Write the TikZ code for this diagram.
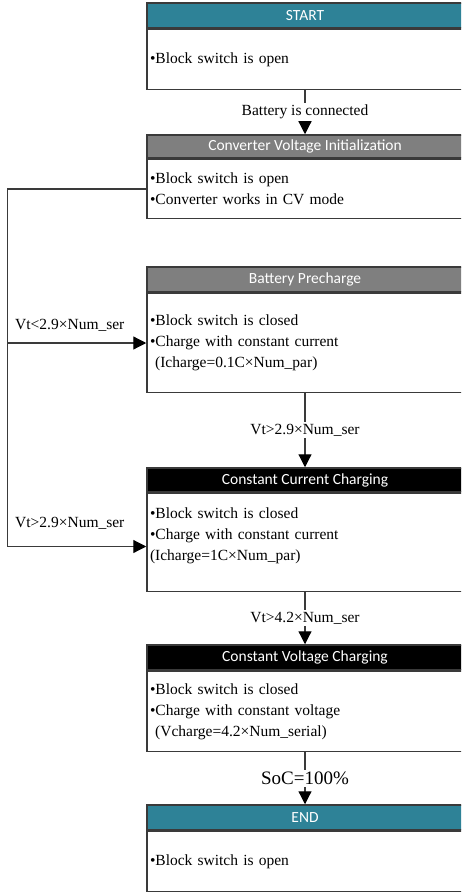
\documentclass[tikz,border=0pt]{standalone}
\usepackage{fontspec}
\setmainfont{Liberation Serif}
\newfontfamily\headfont{Carlito}
\usetikzlibrary{arrows.meta}
\usetikzlibrary{positioning}

\definecolor{stateteal}{HTML}{2E8297}
\definecolor{stategray}{HTML}{7F7F7F}
\definecolor{framegray}{HTML}{3A3A3A}

\tikzset{
  head/.style={draw=framegray, line width=1.5pt, minimum width=316pt,
    minimum height=25pt, inner sep=0pt, text=white,
    font=\headfont\fontsize{15.5}{17}\selectfont},
  body/.style={draw=framegray, line width=1.5pt, minimum width=316pt,
    text width=310pt, inner xsep=3pt, inner ysep=0pt, align=left,
    anchor=north, font=\fontsize{15.5}{21}\selectfont},
  lbl/.style={fill=white, inner sep=2pt, font=\fontsize{15.5}{18}\selectfont},
  arr/.style={draw=framegray, line width=1.2pt,
    -{Triangle[width=13pt,length=13pt,color=black]}},
}

\begin{document}
\begin{tikzpicture}[x=1pt,y=-1pt]
\useasboundingbox (0,0) rectangle (461,893);
\clip (0,0) rectangle (461,893);
\def\c{305}
\node[head, fill=stateteal] (hStart) at (\c, 15.5) {START};
\node[body, minimum height=60pt] (bStart) at (hStart.south) {•Block switch is open};

\node[head, fill=stategray, minimum height=23pt] (hInit) at (\c, 146.5) {Converter Voltage Initialization};
\node[body, minimum height=59pt] (bInit) at (hInit.south) {•Block switch is open\\•Converter works in CV mode};

\node[head, fill=stategray] (hPre) at (\c, 279.5) {Battery Precharge};
\node[body, minimum height=99pt] (bPre) at (hPre.south) {•Block switch is closed\\•Charge with constant current\\\ (Icharge=0.1C×Num\_par)};

\node[head, fill=black, minimum height=24pt] (hCC) at (\c, 480) {Constant Current Charging};
\node[body, minimum height=98pt] (bCC) at (hCC.south) {•Block switch is closed\\•Charge with constant current\\(Icharge=1C×Num\_par)\\[-5pt]\mbox{}};

\node[head, fill=black] (hCV) at (\c, 657.5) {Constant Voltage Charging};
\node[body, minimum height=80pt] (bCV) at (hCV.south) {•Block switch is closed\\•Charge with constant voltage\\\ (Vcharge=4.2×Num\_serial)};

\node[head, fill=stateteal] (hEnd) at (\c, 817.5) {END};
\node[body, minimum height=60pt] (bEnd) at (hEnd.south) {•Block switch is open};

% main flow
\draw[arr] (bStart) -- node[lbl] {Battery is connected} (hInit);
\draw[arr] (bPre) -- node[lbl] {Vt>2.9×Num\_ser} (hPre |- hCC.north);
\draw[arr] (bCC) -- node[lbl] {Vt>4.2×Num\_ser} (hCV);
\draw[arr] (bCV) -- node[lbl, font=\fontsize{19}{22}\selectfont] {SoC=100\%} (hEnd);

% loop on the left
\path (bInit.west) ++(-139,0) coordinate (loop);
\draw[draw=framegray, line width=1.2pt] (bInit.west) -- (loop);
\draw[arr] (loop) |- (bPre.west);
\draw[arr] (loop) |- ([yshift=-4pt]bCC.west);
\node[lbl, fill=none, anchor=west] (cPre) at (13, 325) {Vt<2.9×Num\_ser};
\node[lbl, fill=none, anchor=west] (cCC) at (13, 523) {Vt>2.9×Num\_ser};
\end{tikzpicture}
\end{document}
